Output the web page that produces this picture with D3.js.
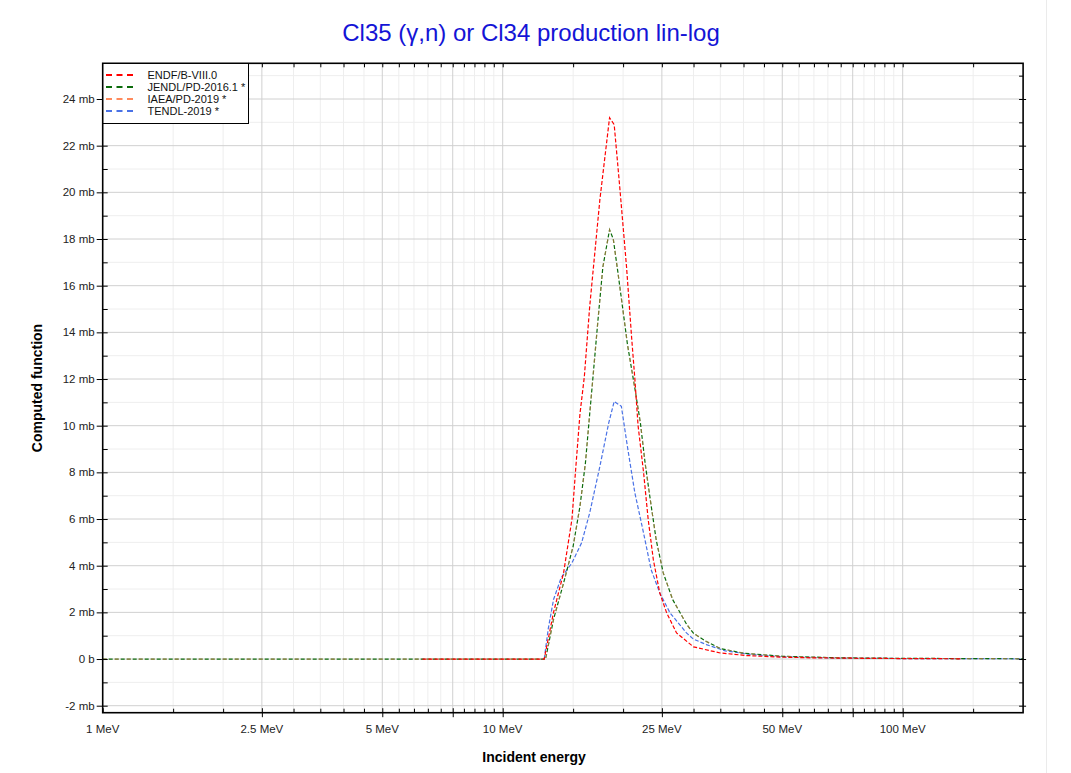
<!DOCTYPE html>
<html>
<head>
<meta charset="utf-8">
<script src="https://cdn.jsdelivr.net/npm/d3@7"></script>
<style>
  html, body { margin: 0; padding: 0; background: #fff; }
  svg { display: block; font-family: "Liberation Sans", Arial, sans-serif; }
</style>
</head>
<body>
<svg id="chart" width="1071" height="773"></svg>
<script>
// ---------------- data ----------------
const titleText = "Cl35 (\u03b3,n) or Cl34 production lin-log";
const seriesNames = ["ENDF/B-VIII.0", "JENDL/PD-2016.1 *", "IAEA/PD-2019 *", "TENDL-2019 *"];
const seriesColors = ["#ff0000", "#0b6b0b", "#ff8a5c", "#4a72e6"];

// ENDF/B-VIII.0  (energy MeV, value mb)
const endfE = [6.3, 12.7, 13.4, 14.2, 14.9, 15.2, 15.6, 16.0, 16.5, 17.5, 18.5, 19.0, 19.6, 20.4, 21.0, 21.4, 21.8, 22.5, 23.1, 23.8, 24.7, 25.7, 27.2, 30, 35, 40.6, 50, 60, 80, 100, 140];
const endfV = [0, 0, 2.0, 3.7, 6.0, 8.0, 10.5, 12.1, 15.1, 19.7, 23.2, 22.9, 20.3, 16.8, 13.8, 12.0, 10.0, 8.0, 6.0, 4.26, 2.83, 1.98, 1.12, 0.52, 0.26, 0.15, 0.08, 0.05, 0.03, 0.02, 0.01];

// JENDL/PD-2016.1
const jendlE = [1, 12.8, 13.4, 14.2, 15.0, 15.6, 16.1, 16.5, 16.8, 17.3, 17.8, 18.5, 18.9, 19.4, 20.0, 20.5, 21.4, 22.1, 22.7, 23.4, 24.2, 25.2, 26.6, 28.8, 30, 32.3, 35, 40, 50, 70, 100, 200];
const jendlV = [0, 0, 1.7, 3.26, 4.83, 6.54, 8.4, 10.5, 12.0, 14.5, 16.8, 18.4, 18.0, 16.6, 14.9, 13.5, 11.6, 10.1, 8.4, 6.8, 5.1, 3.69, 2.55, 1.5, 1.1, 0.75, 0.45, 0.25, 0.12, 0.05, 0.03, 0.01];

// IAEA/PD-2019 (coincides with JENDL)
const iaeaE = [1, 12.8, 13.4, 14.2, 15.0, 15.6, 16.1, 16.5, 16.8, 17.3, 17.8, 18.5, 18.9, 19.4, 20.0, 20.5, 21.4, 22.1, 22.7, 23.4, 24.2, 25.2, 26.6, 28.8, 30, 32.3, 35, 40, 50, 70, 100, 200];
const iaeaV = [0, 0, 1.7, 3.26, 4.83, 6.54, 8.4, 10.5, 12.0, 14.5, 16.8, 18.4, 18.0, 16.6, 14.9, 13.5, 11.6, 10.1, 8.4, 6.8, 5.1, 3.69, 2.55, 1.5, 1.1, 0.75, 0.45, 0.25, 0.12, 0.05, 0.03, 0.01];

// TENDL-2019
const tendlE = [12.7, 13.0, 13.4, 14.0, 14.9, 15.75, 16.5, 17.5, 18.4, 19.0, 19.8, 20.5, 21.4, 22.5, 23.5, 24.7, 26.2, 28.8, 30, 32.3, 36, 42, 50, 70, 100, 200];
const tendlV = [0, 1.3, 2.55, 3.48, 4.12, 4.98, 6.26, 8.26, 10.1, 11.04, 10.83, 9.11, 7.12, 5.4, 3.83, 2.83, 1.98, 1.12, 0.85, 0.62, 0.35, 0.19, 0.1, 0.04, 0.02, 0.01];

// axis ticks
const xMajor = [1, 2.5, 5, 7.5, 10, 25, 50, 75, 100];
const xLabeled = [1, 2.5, 5, 10, 25, 50, 100];
const xMinor = [1.5, 2, 3, 3.5, 4, 4.5, 5.5, 6, 6.5, 7, 8, 8.5, 9, 9.5, 15, 20, 30, 35, 40, 45, 55, 60, 65, 70, 80, 85, 90, 95, 150];
const yMajor = [-2, 0, 2, 4, 6, 8, 10, 12, 14, 16, 18, 20, 22, 24];
const yMinor = [-1, 1, 3, 5, 7, 9, 11, 13, 15, 17, 19, 21, 23, 25];

// ---------------- layout ----------------
const L = 102.7, R = 1023.1, T = 63.3, B = 712.7;
const svg = d3.select("#chart");

const x = d3.scaleLog().domain([1, 200]).range([L, R]);
const y = d3.scaleLinear().domain([-2.3, 25.53]).range([B, T]);

// faint outer frame line
svg.append("line").attr("x1", 1046.5).attr("x2", 1046.5).attr("y1", 0).attr("y2", 773)
  .attr("stroke", "#ebebeb").attr("stroke-width", 1);

// grid
const grid = svg.append("g");
grid.selectAll(".gxm").data(xMinor).join("line")
  .attr("x1", d => x(d)).attr("x2", d => x(d)).attr("y1", T).attr("y2", B)
  .attr("stroke", "#eeeeee").attr("stroke-width", 1);
grid.selectAll(".gym").data(yMinor).join("line")
  .attr("x1", L).attr("x2", R).attr("y1", d => y(d)).attr("y2", d => y(d))
  .attr("stroke", "#eeeeee").attr("stroke-width", 1);
grid.selectAll(".gxM").data(xMajor.filter(d => d > 1)).join("line")
  .attr("x1", d => x(d)).attr("x2", d => x(d)).attr("y1", T).attr("y2", B)
  .attr("stroke", "#d0d0d0").attr("stroke-width", 1);
grid.selectAll(".gyM").data(yMajor).join("line")
  .attr("x1", L).attr("x2", R).attr("y1", d => y(d)).attr("y2", d => y(d))
  .attr("stroke", "#d0d0d0").attr("stroke-width", 1);

// series
const line = d3.line().x(d => x(d[0])).y(d => y(d[1]));
const zipS = (E, V) => E.map((e, i) => [e, V[i]]);
const plotSeries = [
  { data: zipS(tendlE, tendlV), color: seriesColors[3], dash: "4,2", opacity: 1 },
  { data: zipS(jendlE, jendlV), color: seriesColors[1], dash: "4,2", opacity: 1 },
  { data: zipS(iaeaE, iaeaV), color: seriesColors[2], dash: "4,8", opacity: 0.5 },
  { data: zipS(endfE, endfV), color: seriesColors[0], dash: "4,2", opacity: 1 }
];
svg.append("clipPath").attr("id", "clip").append("rect")
  .attr("x", L).attr("y", T).attr("width", R - L).attr("height", B - T);
const lines = svg.append("g").attr("clip-path", "url(#clip)");
plotSeries.forEach(s => {
  lines.append("path").datum(s.data)
    .attr("d", line).attr("fill", "none")
    .attr("stroke", s.color).attr("stroke-width", 1.2).attr("stroke-opacity", s.opacity)
    .attr("stroke-dasharray", s.dash);
});

// axes (frame)
const axB = svg.append("g").attr("transform", `translate(0,${B})`)
  .call(d3.axisBottom(x).tickValues(xMajor).tickSize(-4.5).tickSizeOuter(0).tickFormat(""));
const axBm = svg.append("g").attr("transform", `translate(0,${B})`)
  .call(d3.axisBottom(x).tickValues(xMajor.filter(d => d > 1)).tickSize(4.5).tickSizeOuter(0).tickFormat(""));
const axBmin = svg.append("g").attr("transform", `translate(0,${B})`)
  .call(d3.axisBottom(x).tickValues(xMinor).tickSize(-4).tickSizeOuter(0).tickFormat(""));
const axT = svg.append("g").attr("transform", `translate(0,${T})`)
  .call(d3.axisTop(x).tickValues(xMajor.concat(xMinor)).tickSize(-4).tickSizeOuter(0).tickFormat(""));
const axL = svg.append("g").attr("transform", `translate(${L},0)`)
  .call(d3.axisLeft(y).tickValues(yMajor).tickSize(6).tickSizeOuter(0).tickFormat(""));
const axLin = svg.append("g").attr("transform", `translate(${L},0)`)
  .call(d3.axisLeft(y).tickValues(yMajor.concat(yMinor)).tickSize(-5).tickSizeOuter(0).tickFormat(""));
const axR = svg.append("g").attr("transform", `translate(${R},0)`)
  .call(d3.axisRight(y).tickValues(yMajor.concat(yMinor)).tickSize(-4).tickSizeOuter(0).tickFormat(""));
const axRo = svg.append("g").attr("transform", `translate(${R},0)`)
  .call(d3.axisRight(y).tickValues(yMajor).tickSize(3).tickSizeOuter(0).tickFormat(""));
[axB, axBm, axBmin, axT, axL, axLin, axR, axRo].forEach(g => {
  g.select(".domain").remove();
  g.selectAll(".tick line").attr("stroke", "#000").attr("stroke-width", 1);
});
svg.append("rect").attr("x", L).attr("y", T).attr("width", R - L).attr("height", B - T)
  .attr("fill", "none").attr("stroke", "#000").attr("stroke-width", 1.6);

// tick labels
svg.append("g").selectAll("text").data(xLabeled).join("text")
  .attr("x", d => x(d)).attr("y", B + 20)
  .attr("text-anchor", "middle").attr("font-size", 11.5).attr("fill", "#222")
  .text(d => `${d} MeV`);
svg.append("g").selectAll("text").data(yMajor).join("text")
  .attr("x", L - 8).attr("y", d => y(d) + 4)
  .attr("text-anchor", "end").attr("font-size", 11.5).attr("fill", "#222")
  .text(d => d === 0 ? "0 b" : `${d} mb`);

// axis titles
svg.append("text").attr("x", 534).attr("y", 762).attr("text-anchor", "middle")
  .attr("font-size", 14).attr("font-weight", "bold").text("Incident energy");
svg.append("text").attr("transform", "translate(42,388) rotate(-90)").attr("text-anchor", "middle")
  .attr("font-size", 14).attr("font-weight", "bold").text("Computed function");

// title
svg.append("text").attr("x", 531).attr("y", 41).attr("text-anchor", "middle")
  .attr("font-size", 24).attr("fill", "#1414d6").text(titleText);

// legend
const lg = svg.append("g");
lg.append("rect").attr("x", 103).attr("y", 63.5).attr("width", 145.5).attr("height", 60)
  .attr("fill", "#fff").attr("stroke", "#000").attr("stroke-width", 1);
const rows = [0, 1, 2, 3];
lg.selectAll("line").data(rows).join("line")
  .attr("x1", 106).attr("x2", 134).attr("y1", i => 75 + i * 12).attr("y2", i => 75 + i * 12)
  .attr("stroke", i => seriesColors[i]).attr("stroke-width", 2).attr("stroke-dasharray", "6,4.5");
lg.selectAll("text").data(rows).join("text")
  .attr("x", 147.5).attr("y", i => 78.5 + i * 12).attr("font-size", 11).attr("fill", "#111")
  .text(i => seriesNames[i]);
</script>
</body>
</html>
